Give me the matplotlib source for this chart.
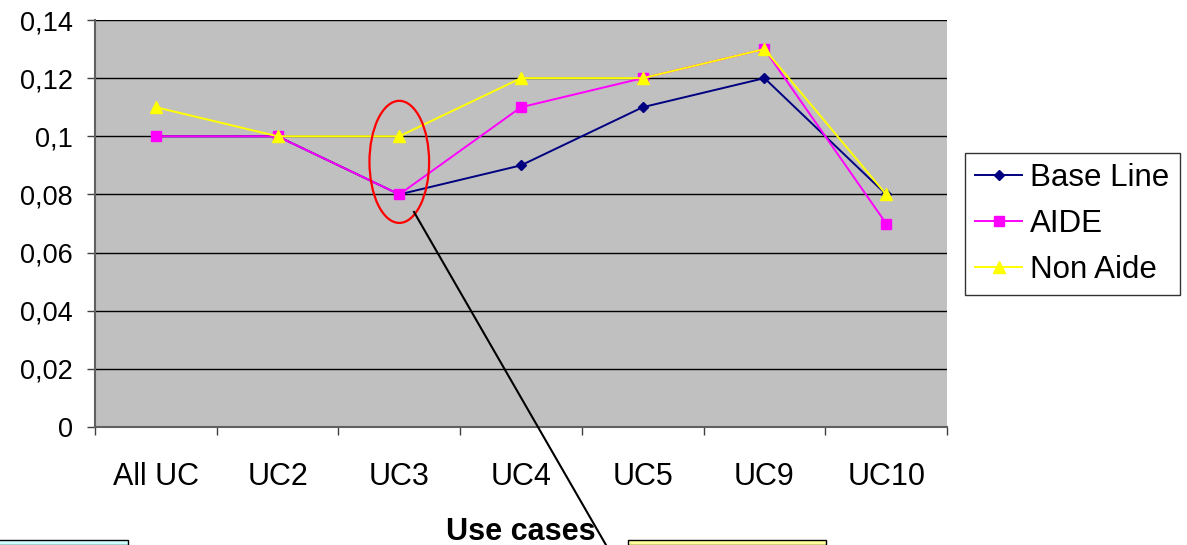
import matplotlib
matplotlib.use("Agg")
import matplotlib.pyplot as plt
from matplotlib.patches import Ellipse, Rectangle
from matplotlib.lines import Line2D
from matplotlib.ticker import FuncFormatter, MultipleLocator

categories = ["All UC", "UC2", "UC3", "UC4", "UC5", "UC9", "UC10"]
base_line = [0.10, 0.10, 0.08, 0.09, 0.11, 0.12, 0.08]
aide = [0.10, 0.10, 0.08, 0.11, 0.12, 0.13, 0.07]
non_aide = [0.11, 0.10, 0.10, 0.12, 0.12, 0.13, 0.08]

plt.rcParams["font.family"] = ["Liberation Sans", "DejaVu Sans"]

W, H = 1187, 545
fig = plt.figure(figsize=(W / 100, H / 100), dpi=100)
fig.patch.set_facecolor("white")
ax = fig.add_axes([95 / W, (H - 427) / H, (947 - 95) / W, (427 - 20) / H])
ax.set_facecolor("#C0C0C0")

x = list(range(len(categories)))
ax.plot(x, base_line, color="#000080", lw=1.4, marker="D", ms=5.5,
        mfc="#000080", mec="#000080", label="Base Line", zorder=3)
ax.plot(x, aide, color="#FF00FF", lw=1.4, marker="s", ms=7,
        mfc="#FF00FF", mec="#FF00FF", label="AIDE", zorder=4)
ax.plot(x, non_aide, color="#FFFF00", lw=1.4, marker="^", ms=8,
        mfc="#FFFF00", mec="#FFFF00", label="Non Aide", zorder=5)

ax.set_xlim(-0.5, len(categories) - 0.5)
ax.set_ylim(0, 0.14)
ax.yaxis.set_major_locator(MultipleLocator(0.02))
ax.yaxis.set_major_formatter(
    FuncFormatter(lambda v, _: ("%g" % round(v, 2)).replace(".", ",")))
ax.grid(axis="y", color="black", lw=1.0, zorder=1)
ax.set_axisbelow(True)

ax.set_xticks(x)
ax.set_xticklabels(categories)
ax.set_xticks([i - 0.5 for i in range(len(categories) + 1)], minor=True)
ax.tick_params(axis="x", which="major", length=0, pad=25, labelsize=22)
ax.tick_params(axis="x", which="minor", length=6, width=1, color="#404040",
               direction="out")
ax.tick_params(axis="y", length=6, width=1, color="#404040", pad=10,
               labelsize=19.5, direction="out")

for side in ("top", "right"):
    ax.spines[side].set_visible(False)
for side in ("left", "bottom"):
    ax.spines[side].set_color("#606060")
    ax.spines[side].set_linewidth(1.5)

ax.set_xlabel("Use cases", fontsize=22, fontweight="bold", labelpad=18)

# callout around UC3
ell = Ellipse((2.0, 0.0912), width=0.49, height=0.042, fill=False,
              edgecolor="#FF0000", lw=1.6, zorder=6)
ax.add_patch(ell)

leg = fig.legend(loc="upper left", bbox_to_anchor=(965 / W, 1 - 153 / H),
                 frameon=True, fancybox=False, fontsize=22.5, handlelength=1.5,
                 handletextpad=0.25, borderpad=0.33, labelspacing=0.5,
                 borderaxespad=0)
leg.get_frame().set_edgecolor("black")
leg.get_frame().set_linewidth(1.0)

# text boxes along the bottom edge
fig.patches.append(Rectangle((-2 / W, 0), 130 / W, (H - 540) / H,
                             transform=fig.transFigure, facecolor="#CCFFFF",
                             edgecolor="black", lw=1.0, clip_on=False))
fig.patches.append(Rectangle((628 / W, 0), (826 - 628) / W, (H - 540) / H,
                             transform=fig.transFigure, facecolor="#FFFF99",
                             edgecolor="black", lw=1.0, clip_on=False))

# connector from the callout to the lower box
fig.lines.append(Line2D([414 / W, 606 / W], [1 - 212 / H, 0],
                        transform=fig.transFigure, color="black", lw=1.5))

fig.savefig("out.png", dpi=100)
